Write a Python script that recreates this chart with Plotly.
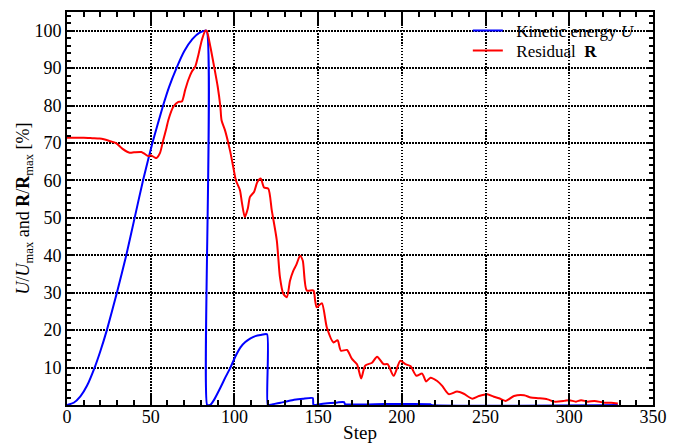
import plotly.graph_objects as go

# Kinetic energy U / U_max [%]
ke_step = [0, 4, 8, 12, 16.5, 20, 23.8, 29.8, 35.4, 40.4, 45.4, 51, 57.4, 61, 65.4, 70, 75, 79, 83.3,
           83.7, 85.6, 88, 91.6, 94.5, 97.6, 100.5, 103.6, 106.5, 109.6, 112.5, 115.6, 119.5,
           119.9, 122, 124, 127.6, 131.5, 135.6, 141, 146.8,
           147.2, 150, 155.6, 161.6, 165.5, 166, 190, 217, 217.5, 329]
ke_val = [0, 0.6, 2.3, 5.2, 10, 14.5, 20, 30, 40, 50, 60, 70, 80, 85, 90, 94.5, 97.8, 99.4, 100,
          0, 0, 1.5, 4.6, 7.3, 10, 12.9, 15.4, 16.8, 17.8, 18.4, 18.7, 18.9,
          0, 0.1, 0.3, 0.6, 1.0, 1.4, 1.7, 1.85,
          0, 0.15, 0.45, 0.7, 0.75, 0.25, 0.25, 0.2, 0, 0]

# Residual R / R_max [%]
res_step = [0, 5, 10, 15, 19.5, 22, 25, 29.5, 33, 37.4, 40, 44.4, 46, 48.5, 50, 52.5, 53.4, 55.5, 57.5,
            59.4, 60.5, 63.5, 66.5, 68.6, 70.6, 72.5, 74.6, 76.6, 78.5, 80.6, 82.6, 83.4, 85.6, 87.5,
            90, 91.6, 92.3, 94.3, 97.3, 99.3, 100.9, 103.3, 104.5, 106.2, 108, 109.3, 111.7, 113.7,
            115.7, 117.7, 120.2, 122.3, 125.3, 127.2, 129.2, 131.3, 133.2, 135.2, 137, 139.2, 140.8,
            143.2, 147.2, 148.2, 149.2, 152.2, 155.2, 159.2, 161.6, 163.6, 167.2, 170.2, 173.2, 175.7,
            178.1, 182.2, 185.2, 189.1, 191.5, 195.1, 199.1, 202.1, 205.1, 208.7, 212.1, 214.5, 217.1,
            221.1, 224.1, 228, 233, 237, 242, 246, 251, 255, 258, 262, 267, 273, 277, 282, 287, 291,
            297, 300, 304, 307, 311, 315, 321, 325, 329]
res_val = [71.4, 71.4, 71.4, 71.3, 71.2, 71.0, 70.6, 69.9, 68.5, 67.4, 67.5, 67.6, 67.2, 66.5, 66.7, 66.1,
           66.0, 67.3, 70.8, 74.0, 76.1, 79.7, 81.0, 81.1, 84.2, 86.9, 89.1, 90.4, 93.6, 97.6, 100, 100,
           95.8, 91.3, 85.1, 79.7, 76.1, 73.5, 68.1, 63.6, 60, 57.4, 54, 50.2, 52.5, 55.6, 56.9, 59.6,
           60.5, 58.1, 57.8, 52, 44, 34.1, 29.7, 28.8, 33.2, 35.9, 37.5, 39.9, 38.6, 30.6, 30.6, 27.9,
           26.1, 27.2, 20.7, 16.7, 17.3, 14.5, 14.7, 12.3, 10.9, 7.1, 10.5, 11.3, 12.9, 10.9, 10.9, 7.8,
           11.8, 10.9, 10.4, 7.8, 8.4, 6.3, 7.3, 6.4, 5.1, 2.9, 3.6, 3.0, 1.7, 2.4, 2.9, 2.2, 1.8, 1.1,
           2.4, 2.6, 2.0, 1.8, 1.5, 0.9, 1.1, 1.3, 0.9, 1.3, 0.9, 1.1, 0.6, 0.6, 0.4]

x_ticks = [0, 50, 100, 150, 200, 250, 300, 350]
y_ticks = [10, 20, 30, 40, 50, 60, 70, 80, 90, 100]

FONT = "Liberation Serif"
NB = "\u00a0"

fig = go.Figure()
fig.add_trace(go.Scatter(x=ke_step, y=ke_val, mode="lines", name=NB + NB + "Kinetic energy <i>U</i>",
                         legend="legend",
                         line=dict(color="#0000ff", width=2, shape="spline", smoothing=0.5)))
fig.add_trace(go.Scatter(x=res_step, y=res_val, mode="lines", name=NB + NB + "Residual" + NB + " <b>R</b>",
                         legend="legend2",
                         line=dict(color="#ff0000", width=2, shape="spline", smoothing=0.7)))

grid = dict(showgrid=True, gridcolor="black", gridwidth=1.5, griddash="1.5px,1.5px",
            showline=True, linecolor="black", linewidth=2, mirror="allticks",
            ticks="inside", tickcolor="black", zeroline=False, automargin=False,
            tickfont=dict(family=FONT, size=18, color="black"))

fig.update_xaxes(range=[0, 350], tickvals=x_ticks, ticklen=12, tickwidth=2, ticklabelstandoff=-6,
                 minor=dict(dtick=10, tick0=0, ticklen=5, tickwidth=2, tickcolor="black", ticks="inside", showgrid=False),
                 title=dict(text="Step", font=dict(family=FONT, size=19, color="black"), standoff=0),
                 **grid)
fig.update_yaxes(range=[0, 105], tickvals=y_ticks, ticklen=7, tickwidth=2,
                 minor=dict(dtick=2, tick0=0, ticklen=4, tickwidth=2, tickcolor="black", ticks="inside", showgrid=False),
                 title=dict(text="<i>U</i>/<i>U</i><sub>max</sub> and <b>R</b>/<b>R</b><sub>max</sub> [%]",
                            font=dict(family=FONT, size=18, color="black"), standoff=0),
                 **grid)

# white backing behind legend (above grid, below traces)
fig.add_shape(type="rect", xref="paper", yref="paper", x0=0.69, x1=1.0, y0=0.878, y1=1.0,
              fillcolor="white", line=dict(width=0), layer="between")

leg = dict(xanchor="left", yanchor="middle", bgcolor="rgba(0,0,0,0)", borderwidth=0,
           itemwidth=30, font=dict(family=FONT, size=17, color="black"))

fig.update_layout(
    width=682, height=444,
    margin=dict(l=67, r=29, t=12, b=39),
    plot_bgcolor="white", paper_bgcolor="white",
    font=dict(family=FONT, color="black"),
    legend=dict(x=0.684, y=1 - 19 / 393, **leg),
    legend2=dict(x=0.684, y=1 - 39 / 393, **leg),
    showlegend=True,
)

fig.write_html("out.html", config={"displayModeBar": False},
               post_script="document.body.style.margin='0';")
